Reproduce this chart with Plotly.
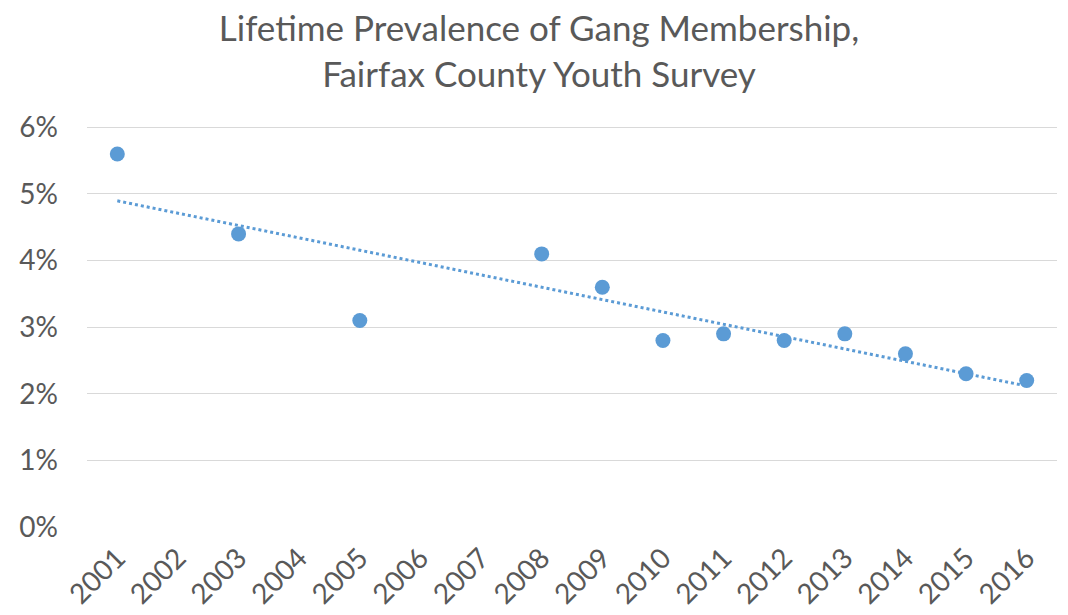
import numpy as np
import plotly.graph_objects as go

years = [str(y) for y in range(2001, 2017)]
point_years = ["2001", "2003", "2005", "2008", "2009", "2010", "2011", "2012", "2013", "2014", "2015", "2016"]
prevalence = [0.056, 0.044, 0.031, 0.041, 0.036, 0.028, 0.029, 0.028, 0.029, 0.026, 0.023, 0.022]
y_ticks = [0, 0.01, 0.02, 0.03, 0.04, 0.05, 0.06]

# Linear trendline (Excel-style, x = category index)
idx = np.array([years.index(y) + 1 for y in point_years], dtype=float)
slope, intercept = np.polyfit(idx, np.array(prevalence), 1)
all_idx = np.arange(1, len(years) + 1, dtype=float)
trend = slope * all_idx + intercept

FONT = "Lato"
GRAY = "#595959"
BLUE = "#5B9BD5"

fig = go.Figure()
fig.add_trace(go.Scatter(
    x=years, y=trend, mode="lines",
    line=dict(color=BLUE, width=3, dash="dot"),
    hoverinfo="skip", showlegend=False,
))
fig.add_trace(go.Scatter(
    x=point_years, y=prevalence, mode="markers",
    marker=dict(color=BLUE, size=15, line=dict(width=0)),
    showlegend=False,
))

fig.update_layout(
    width=1068, height=615,
    paper_bgcolor="white", plot_bgcolor="white",
    margin=dict(l=87, r=11, t=126, b=88, autoexpand=False),
    title=dict(
        text="Lifetime Prevalence of Gang Membership,<br>Fairfax County Youth Survey",
        x=0.5 + 5 / 1068, xanchor="center", xref="container",
        y=1 - 41 / 615, yanchor="middle", yref="container",
        font=dict(family=FONT, size=35, color=GRAY),
    ),
    font=dict(family=FONT, color=GRAY),
    xaxis=dict(
        type="category", categoryorder="array", categoryarray=years,
        range=[-0.5, len(years) - 0.5],
        tickangle=-45, tickfont=dict(size=28, color=GRAY),
        showgrid=False, showline=False, zeroline=False, ticks="",
        automargin=False, ticklabelstandoff=8,
    ),
    yaxis=dict(
        range=[0, 0.0602], tickvals=y_ticks, tickformat=".0%",
        tickfont=dict(size=28, color=GRAY),
        showgrid=True, gridcolor="#D9D9D9", gridwidth=1,
        zeroline=False, showline=False, ticks="",
        automargin=False, ticklabelstandoff=28,
    ),
)

fig.write_html(
    "out.html",
    config={"displayModeBar": False},
    post_script="document.body.style.margin='0';document.body.style.padding='0';",
)
